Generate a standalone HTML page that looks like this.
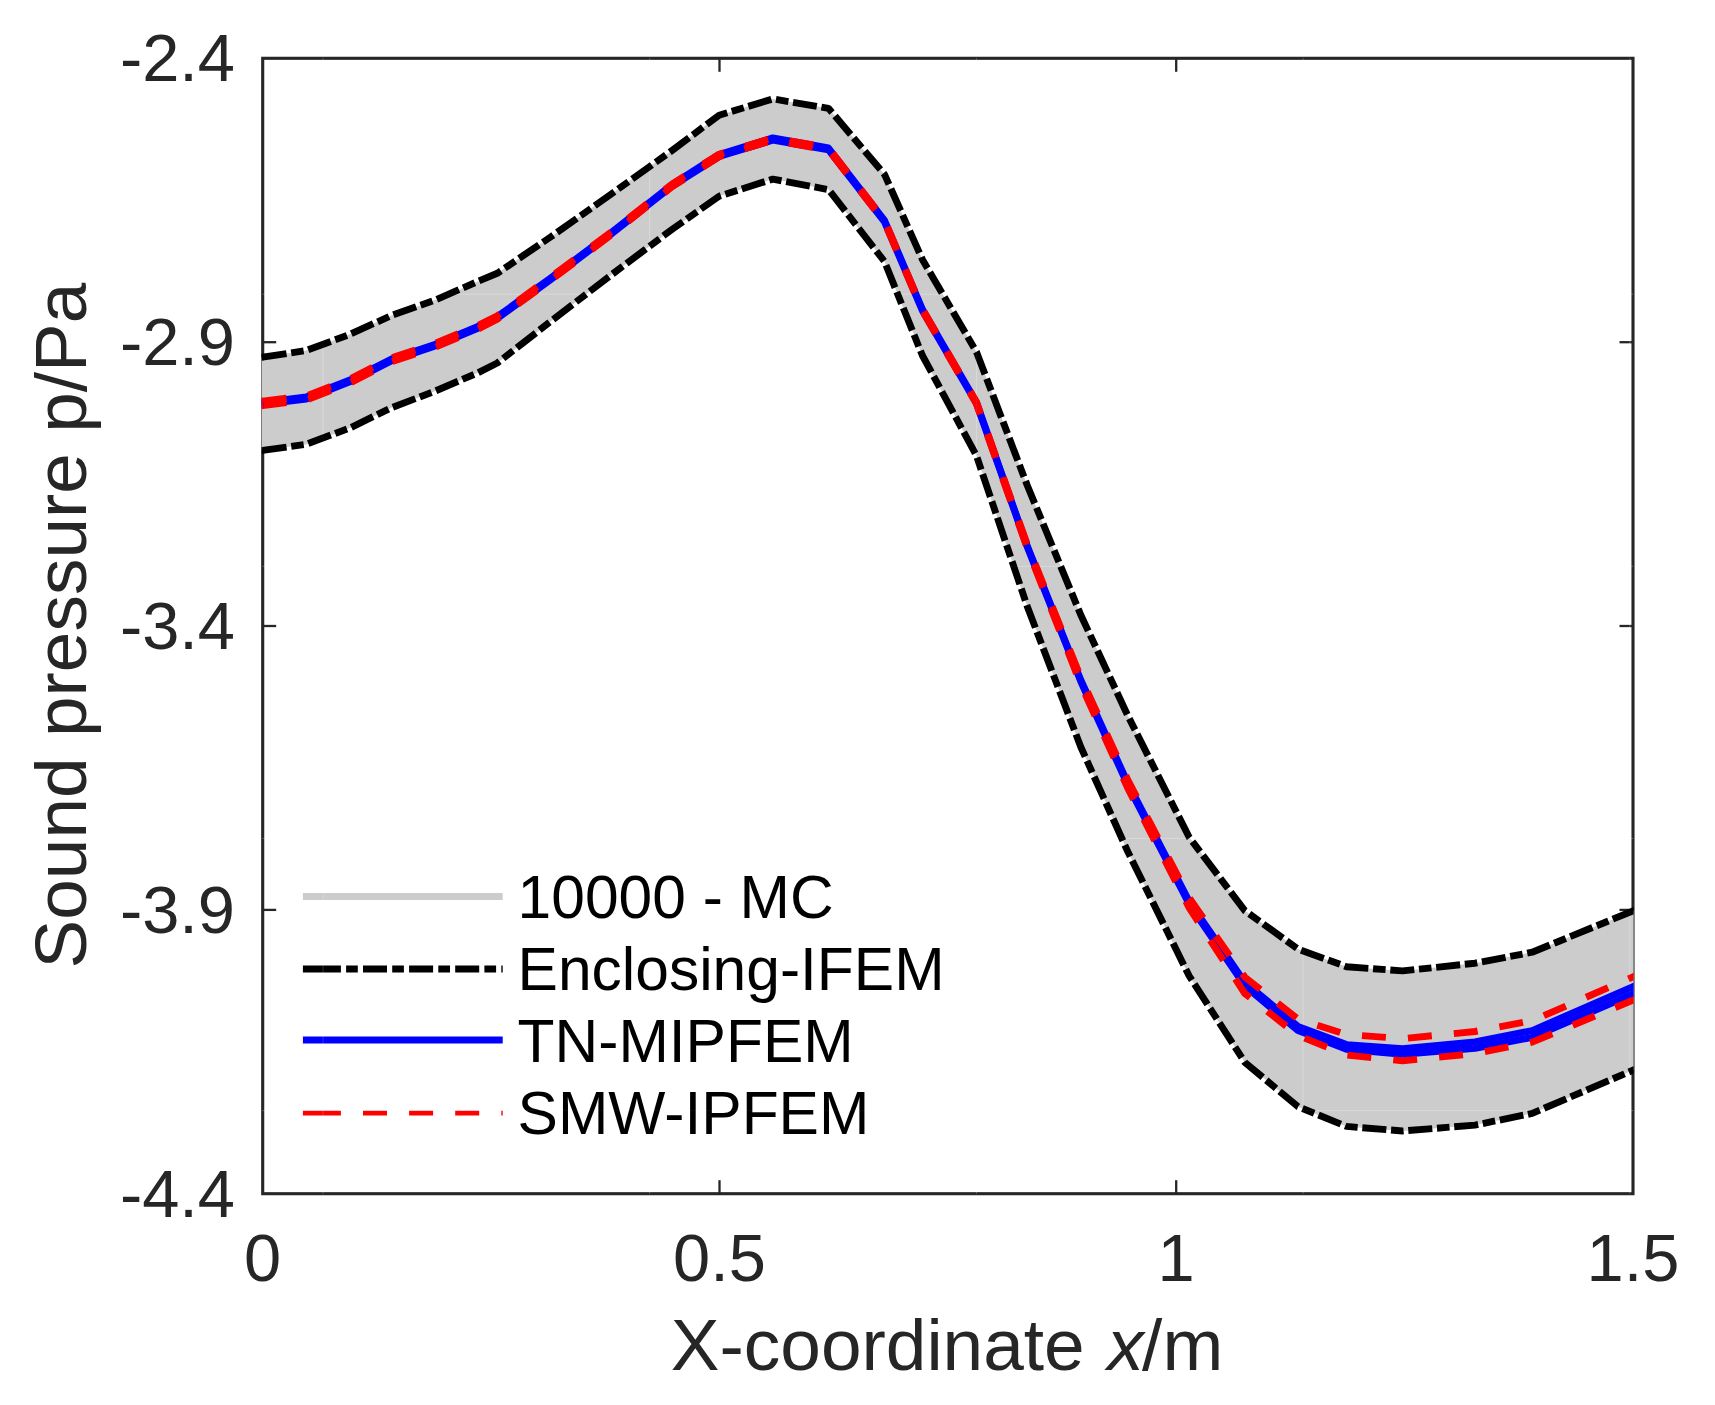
<!DOCTYPE html>
<html lang="en"><head><meta charset="utf-8"><title>Sound pressure</title>
<style>
html,body{margin:0;padding:0;background:#fff;}
body{width:1715px;height:1405px;overflow:hidden;}
svg{display:block;}
text{font-family:"Liberation Sans",Arial,Helvetica,sans-serif;}
.t{font-size:66.8px;fill:#262626;}
.l{font-size:73px;fill:#262626;}
.g{font-size:60.5px;fill:#000;}
</style></head><body>
<svg width="1715" height="1405" viewBox="0 0 1715 1405">
<defs><clipPath id="c"><rect x="261.6" y="58.3" width="1372.0" height="1135.4"/></clipPath></defs>
<rect width="1715" height="1405" fill="#fff"/>

<rect x="262.7" y="58.3" width="1370.3" height="1135.4" fill="none" stroke="#262626" stroke-width="3.1"/>
<g stroke="#262626" stroke-width="2.3">
<line x1="262.7" y1="342.2" x2="276.2" y2="342.2"/>
<line x1="1633.0" y1="342.2" x2="1619.5" y2="342.2"/>
<line x1="262.7" y1="626.0" x2="276.2" y2="626.0"/>
<line x1="1633.0" y1="626.0" x2="1619.5" y2="626.0"/>
<line x1="262.7" y1="909.9" x2="276.2" y2="909.9"/>
<line x1="1633.0" y1="909.9" x2="1619.5" y2="909.9"/>
<line x1="719.5" y1="58.3" x2="719.5" y2="71.8"/>
<line x1="719.5" y1="1193.7" x2="719.5" y2="1180.2"/>
<line x1="1176.2" y1="58.3" x2="1176.2" y2="71.8"/>
<line x1="1176.2" y1="1193.7" x2="1176.2" y2="1180.2"/>
</g>
<g clip-path="url(#c)" fill="none" stroke-linejoin="round">
<polygon points="259.7,357.7 262.7,357.2 306.3,350.5 350.5,334.1 391.4,315.5 435.4,300.0 477.9,281.4 497.3,273.3 550.6,237.0 611.3,194.0 671.9,150.6 719.1,115.2 772.8,98.9 828.5,108.3 884.5,174.4 922.4,259.5 976.5,352.0 1027.1,485.0 1080.8,615.0 1127.5,715.0 1189.2,837.3 1244.8,910.6 1298.0,949.1 1346.5,966.7 1402.6,970.9 1475.0,963.2 1532.2,952.2 1633.0,910.9 1636.0,909.7 1636.0,1068.9 1633.0,1070.2 1532.2,1113.4 1475.0,1125.1 1402.6,1131.0 1346.5,1126.4 1298.0,1106.7 1244.8,1062.3 1189.2,976.0 1127.5,851.0 1080.8,747.0 1027.1,606.0 976.5,455.8 922.4,355.5 884.5,261.5 828.5,189.6 772.8,179.1 719.1,196.2 671.9,229.5 611.3,274.9 550.6,321.4 497.3,363.0 477.9,372.8 435.4,391.0 391.4,407.7 350.5,427.7 306.3,444.3 262.7,450.4 259.7,450.8" fill="#cccccc" stroke="none"/>
<g stroke="#ffffff" stroke-opacity="0.25" stroke-width="1">
<line x1="323.0" y1="58.3" x2="323.0" y2="1193.7"/>
<line x1="649.7" y1="58.3" x2="649.7" y2="1193.7"/>
<line x1="976.4" y1="58.3" x2="976.4" y2="1193.7"/>
<line x1="1303.1" y1="58.3" x2="1303.1" y2="1193.7"/>
<line x1="1629.8" y1="58.3" x2="1629.8" y2="1193.7"/>
<line x1="262.7" y1="294.2" x2="1633.0" y2="294.2"/>
<line x1="262.7" y1="566.3" x2="1633.0" y2="566.3"/>
<line x1="262.7" y1="838.4" x2="1633.0" y2="838.4"/>
<line x1="262.7" y1="1110.6" x2="1633.0" y2="1110.6"/>
</g>
<polyline points="262.7,357.2 306.3,350.5 350.5,334.1 391.4,315.5 435.4,300.0 477.9,281.4 497.3,273.3 550.6,237.0 611.3,194.0 671.9,150.6 719.1,115.2 772.8,98.9 828.5,108.3 884.5,174.4 922.4,259.5 976.5,352.0 1027.1,485.0 1080.8,615.0 1127.5,715.0 1189.2,837.3 1244.8,910.6 1298.0,949.1 1346.5,966.7 1402.6,970.9 1475.0,963.2 1532.2,952.2 1633.0,910.9 1636.0,909.7" stroke="#000" stroke-width="6.9" stroke-dasharray="24.1 4.7 12.6 4.7"/>
<polyline points="262.7,450.4 306.3,444.3 350.5,427.7 391.4,407.7 435.4,391.0 477.9,372.8 497.3,363.0 550.6,321.4 611.3,274.9 671.9,229.5 719.1,196.2 772.8,179.1 828.5,189.6 884.5,261.5 922.4,355.5 976.5,455.8 1027.1,606.0 1080.8,747.0 1127.5,851.0 1189.2,976.0 1244.8,1062.3 1298.0,1106.7 1346.5,1126.4 1402.6,1131.0 1475.0,1125.1 1532.2,1113.4 1633.0,1070.2 1636.0,1068.9" stroke="#000" stroke-width="6.9" stroke-dasharray="24.1 4.7 12.6 4.7"/>
<polyline points="262.7,402.3 306.3,397.0 350.5,379.8 391.4,359.0 435.4,344.3 477.9,326.4 497.3,316.6 550.6,278.0 611.3,232.5 671.9,184.6 719.1,154.5 772.8,137.9 828.5,148.0 884.5,220.3 922.4,309.3 976.5,402.5 1027.1,545.5 1080.8,680.0 1127.5,782.4 1189.2,901.4 1244.8,982.3 1298.0,1026.4 1346.5,1044.6 1402.6,1048.8 1475.0,1042.0 1532.2,1030.6 1633.0,986.6 1636.0,985.3" stroke="#0000ff" stroke-width="6.9"/>
<polyline points="262.7,404.3 306.3,399.0 350.5,381.6 391.4,360.8 435.4,346.1 477.9,328.2 497.3,318.4 550.6,279.6 611.3,234.1 671.9,186.4 719.1,156.5 772.8,140.1 828.5,149.8 884.5,221.9 922.4,310.7 976.5,403.5 1027.1,546.5 1080.8,681.6 1127.5,784.6 1189.2,904.2 1244.8,985.9 1298.0,1030.6 1346.5,1049.4 1402.6,1054.4 1475.0,1048.4 1532.2,1037.4 1633.0,994.0 1636.0,992.7" stroke="#0000ff" stroke-width="6.9"/>
<polyline points="262.7,401.1 306.3,395.9 350.5,378.7 391.4,357.9 435.4,343.3 477.9,325.5 497.3,315.8 550.6,277.2 611.3,231.8 671.9,184.1 719.1,154.2 772.8,137.8 828.5,147.7 884.5,220.0 922.4,308.9 976.5,401.9 1027.1,544.0 1080.8,677.2 1127.5,779.3 1189.2,897.8 1244.8,977.1 1298.0,1019.1 1346.5,1034.5 1402.6,1038.6 1475.0,1031.5 1532.2,1020.7 1633.0,976.8 1636.0,975.5" stroke="#ff0000" stroke-width="6.9" stroke-dasharray="24 22.1"/>
<polyline points="262.7,405.5 306.3,400.1 350.5,382.7 391.4,361.9 435.4,347.1 477.9,329.1 497.3,319.2 550.6,280.4 611.3,234.8 671.9,186.9 719.1,156.8 772.8,140.2 828.5,150.1 884.5,222.2 922.4,311.1 976.5,404.1 1027.1,548.0 1080.8,684.4 1127.5,787.7 1189.2,907.8 1244.8,993.5 1298.0,1035.5 1346.5,1055.1 1402.6,1060.8 1475.0,1053.6 1532.2,1042.1 1633.0,1000.1 1636.0,998.9" stroke="#ff0000" stroke-width="6.9" stroke-dasharray="24 22.1"/>
<line x1="261.2" y1="357.43" x2="263.2" y2="357.12" stroke="#000" stroke-width="6.9"/>
<line x1="261.2" y1="450.61" x2="263.2" y2="450.33" stroke="#000" stroke-width="6.9"/>
<line x1="261.2" y1="402.48" x2="263.2" y2="402.24" stroke="#0000ff" stroke-width="6.9"/>
<line x1="261.2" y1="404.48" x2="263.2" y2="404.24" stroke="#0000ff" stroke-width="6.9"/>
<line x1="261.2" y1="401.23" x2="263.2" y2="400.99" stroke="#ff0000" stroke-width="6.9"/>
<line x1="261.2" y1="405.73" x2="263.2" y2="405.49" stroke="#ff0000" stroke-width="6.9"/>
</g>
<text class="t" x="235" y="81.2" text-anchor="end">-2.4</text>
<text class="t" x="235" y="365.1" text-anchor="end">-2.9</text>
<text class="t" x="235" y="648.9" text-anchor="end">-3.4</text>
<text class="t" x="235" y="932.8" text-anchor="end">-3.9</text>
<text class="t" x="235" y="1216.6" text-anchor="end">-4.4</text>
<text class="t" x="262.7" y="1281.2" text-anchor="middle">0</text>
<text class="t" x="719.5" y="1281.2" text-anchor="middle">0.5</text>
<text class="t" x="1176.2" y="1281.2" text-anchor="middle">1</text>
<text class="t" x="1633.0" y="1281.2" text-anchor="middle">1.5</text>
<text class="l" x="947" y="1370.4" text-anchor="middle">X-coordinate <tspan font-style="italic" dx="2.2">x</tspan><tspan dx="-1.6">/m</tspan></text>
<text class="l" transform="translate(86.4,625.5) rotate(-90)" text-anchor="middle">Sound pressure p/Pa</text>
<line x1="302.9" y1="896.6" x2="502.7" y2="896.6" stroke="#cccccc" stroke-width="7"/>
<line x1="302.9" y1="969" x2="502.7" y2="969" stroke="#000" stroke-width="6.9" stroke-dasharray="38 5.2 11.7 5.2 24 5.2 11.7 5.2 24 5.2 11.7 5.2 24 5.2 11.7 5.2 24 5.2"/>
<line x1="302.9" y1="1040" x2="502.7" y2="1040" stroke="#0000ff" stroke-width="6.9"/>
<line x1="302.9" y1="1113.2" x2="502.7" y2="1113.2" stroke="#ff0000" stroke-width="4.8" stroke-dasharray="38 22.1 24 22.1 24 22.1 24 22.1 24 22.1"/>
<text class="g" x="517.6" y="918.3">10000 - MC</text>
<text class="g" x="517.6" y="990.2">Enclosing-IFEM</text>
<text class="g" x="517.6" y="1062.2">TN-MIPFEM</text>
<text class="g" x="517.6" y="1133.7">SMW-IPFEM</text>
<g stroke="#ffffff" stroke-opacity="0.05" stroke-width="1">
<line x1="323.0" y1="0" x2="323.0" y2="1405"/>
<line x1="649.7" y1="0" x2="649.7" y2="1405"/>
<line x1="976.4" y1="0" x2="976.4" y2="1405"/>
<line x1="1303.1" y1="0" x2="1303.1" y2="1405"/>
<line x1="1629.8" y1="0" x2="1629.8" y2="1405"/>
<line x1="0" y1="294.2" x2="1715" y2="294.2"/>
<line x1="0" y1="566.3" x2="1715" y2="566.3"/>
<line x1="0" y1="838.4" x2="1715" y2="838.4"/>
<line x1="0" y1="1110.6" x2="1715" y2="1110.6"/>
<line x1="0" y1="1382.7" x2="1715" y2="1382.7"/>
</g>
<line x1="323" y1="885" x2="323" y2="1122" stroke="#ffffff" stroke-opacity="0.15" stroke-width="1"/>
</svg></body></html>
